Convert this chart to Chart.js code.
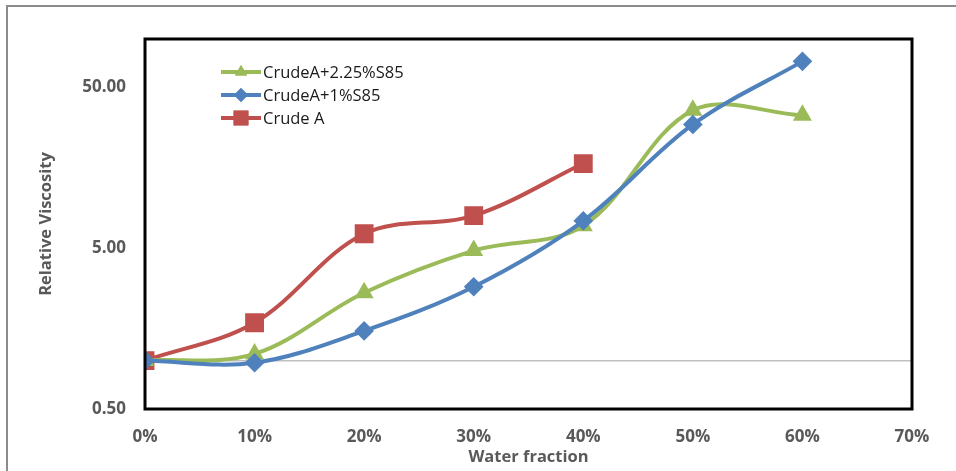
<!DOCTYPE html>
<html>
<head>
<meta charset="utf-8">
<script src="https://cdn.jsdelivr.net/npm/chart.js@4/dist/chart.umd.min.js"></script>
<style>
  html, body { margin: 0; padding: 0; background: #fff; }
  #wrap { width: 956px; height: 471px; position: relative; }
</style>
</head>
<body>
<div id="wrap"><canvas id="viscChart"></canvas></div>
<script>
// water fraction (%) for each measurement
const waterFraction = [0, 10, 20, 30, 40, 50, 60];

// relative viscosity per series
const crudeA_225S85 = [1.0, 1.10, 2.64, 4.83, 6.9, 36.0, 33.5];
const crudeA_1S85 = [1.0, 0.97, 1.53, 2.88, 7.4, 29.4, 72.6];
const crudeA = [1.0, 1.72, 6.15, 7.97, 16.8];

const yTickValues = [0.5, 1, 5, 50];
const xTickLabels = ["0%", "10%", "20%", "30%", "40%", "50%", "60%", "70%"];

const GREEN = "#9BBB59", BLUE = "#4F81BD", RED = "#C0504D";
const GRAY_TEXT = "#595959";

function toPoints(vals) {
    return vals.map((v, i) => ({ x: waterFraction[i], y: v }));
}

// outer frame + thick black plot box
const framePlugin = {
    id: "frame",
    beforeDraw(chart) {
        const ctx = chart.ctx;
        ctx.save();
        ctx.strokeStyle = "#8c8c8c";
        ctx.lineWidth = 2;
        ctx.beginPath();
        ctx.moveTo(7, 471);
        ctx.lineTo(7, 6);
        ctx.lineTo(956, 6);
        ctx.stroke();
        ctx.restore();
    },
    afterDraw(chart) {
        const a = chart.chartArea;
        const ctx = chart.ctx;
        ctx.save();
        ctx.strokeStyle = "#000";
        ctx.lineWidth = 3;
        ctx.strokeRect(a.left, a.top, a.right - a.left, a.bottom - a.top);
        ctx.restore();
    }
};

// excel-like legend: line with marker in the middle
const legendPlugin = {
    id: "lineLegend",
    afterDraw(chart) {
        const ctx = chart.ctx;
        const rows = [1, 0, 2]; // green, blue, red
        ctx.save();
        rows.forEach((dsIdx, r) => {
            const ds = chart.data.datasets[dsIdx];
            const y = 72 + r * 23;
            ctx.strokeStyle = ds.borderColor;
            ctx.lineWidth = 4;
            ctx.beginPath();
            ctx.moveTo(221, y);
            ctx.lineTo(261, y);
            ctx.stroke();
            ctx.fillStyle = ds.borderColor;
            Chart.helpers.drawPoint(ctx, {
                pointStyle: ds.pointStyle,
                radius: ds.pointRadius,
                borderWidth: 0
            }, 241, y);
            ctx.fill();
            ctx.fillStyle = "#1a1a1a";
            ctx.font = "16.5px 'Open Sans'";
            ctx.textBaseline = "middle";
            ctx.fillText(ds.label, 263, y + 1);
        });
        ctx.restore();
    }
};

new Chart(document.getElementById("viscChart"), {
    type: "line",
    data: {
        datasets: [
            {
                label: "CrudeA+1%S85",
                data: toPoints(crudeA_1S85),
                borderColor: BLUE,
                backgroundColor: BLUE,
                pointStyle: "rectRot",
                pointRadius: 7,
                borderWidth: 4,
                tension: 0.35
            },
            {
                label: "CrudeA+2.25%S85",
                data: toPoints(crudeA_225S85),
                borderColor: GREEN,
                backgroundColor: GREEN,
                pointStyle: "triangle",
                pointRadius: 7,
                borderWidth: 4,
                tension: 0.35
            },
            {
                label: "Crude A",
                data: toPoints(crudeA),
                borderColor: RED,
                backgroundColor: RED,
                pointStyle: "rect",
                pointRadius: 10.5,
                borderWidth: 4,
                tension: 0.35
            }
        ]
    },
    options: {
        responsive: true,
        maintainAspectRatio: false,
        animation: false,
        layout: { padding: { left: 28, top: 39, right: 44, bottom: 0 } },
        plugins: {
            legend: { display: false },
            tooltip: { enabled: false }
        },
        elements: { point: { borderWidth: 0 } },
        scales: {
            x: {
                type: "linear",
                min: 0,
                max: 70,
                afterBuildTicks: (scale) => {
                    scale.ticks = xTickLabels.map((_, i) => ({ value: i * 10 }));
                },
                afterFit: (scale) => { scale.height = 62; },
                grid: { display: false, drawTicks: false },
                border: { display: false },
                ticks: {
                    padding: 18,
                    color: GRAY_TEXT,
                    font: { family: "'Open Sans'", size: 17, weight: "bold" },
                    callback: (v) => xTickLabels[Math.round(v / 10)]
                },
                title: {
                    display: true,
                    text: "Water fraction",
                    color: GRAY_TEXT,
                    padding: { top: 0, bottom: 4 },
                    font: { family: "'Open Sans'", size: 16.5, weight: "bold" }
                }
            },
            y: {
                type: "logarithmic",
                min: 0.5,
                max: 100,
                afterBuildTicks: (scale) => {
                    scale.ticks = yTickValues.map((v) => ({ value: v }));
                },
                afterFit: (scale) => { scale.width = 117; },
                grid: {
                    drawTicks: false,
                    lineWidth: 1.5,
                    color: (c) => (c.tick && c.tick.value === 1 ? "#bfbfbf" : "rgba(0,0,0,0)")
                },
                border: { display: false },
                ticks: {
                    padding: 19,
                    color: GRAY_TEXT,
                    font: { family: "'Open Sans'", size: 17, weight: "bold" },
                    callback: (v) => (v === 1 ? "" : v.toFixed(2))
                },
                title: {
                    display: true,
                    text: "Relative Viscosity",
                    color: GRAY_TEXT,
                    padding: { top: 8, bottom: 0 },
                    font: { family: "'Open Sans'", size: 16.5, weight: "bold" }
                }
            }
        }
    },
    plugins: [framePlugin, legendPlugin]
});
</script>
</body>
</html>
